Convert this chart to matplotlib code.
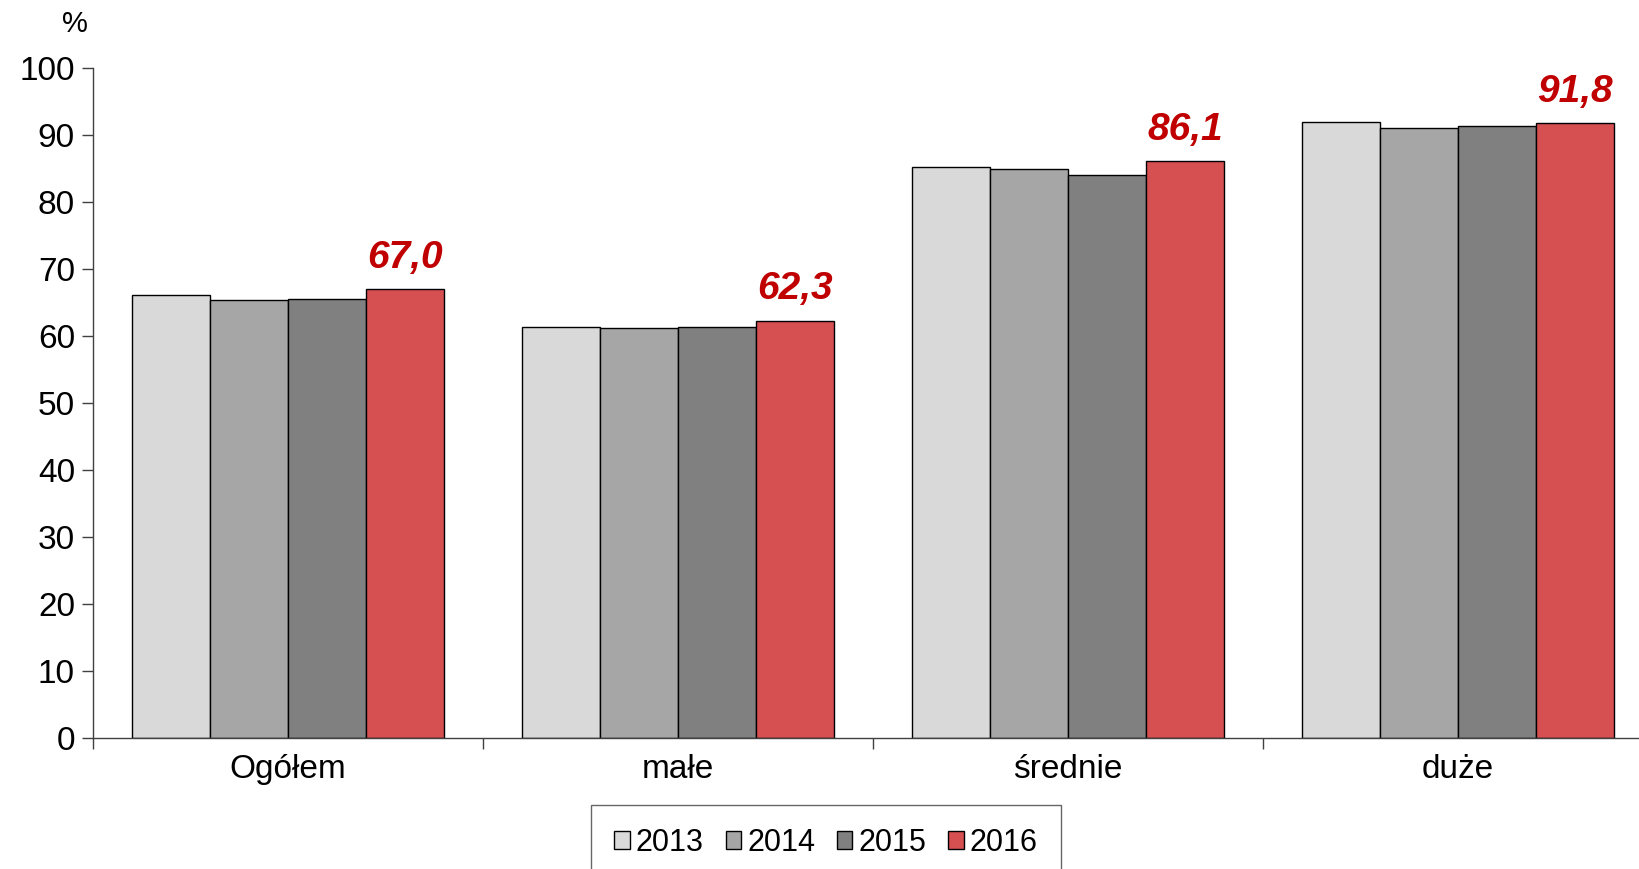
import numpy as np
import matplotlib.pyplot as plt

plt.rcParams['font.family'] = ['Liberation Sans', 'DejaVu Sans']

categories = ['Ogółem', 'małe', 'średnie', 'duże']
years = ['2013', '2014', '2015', '2016']
v2013 = [66.1, 61.4, 85.3, 92.0]
v2014 = [65.4, 61.2, 85.0, 91.0]
v2015 = [65.5, 61.4, 84.0, 91.3]
v2016 = [67.0, 62.3, 86.1, 91.8]
labels_2016 = ['67,0', '62,3', '86,1', '91,8']

colors = ['#D9D9D9', '#A6A6A6', '#808080', '#D64F51']
series = [v2013, v2014, v2015, v2016]

fig = plt.figure(figsize=(16.4, 8.69), dpi=100)
ax = fig.add_axes([93 / 1640, 0.1503, (1653 - 93) / 1640, 0.9217 - 0.1503])

x = np.arange(len(categories))
w = 0.2
for i, (vals, col, yr) in enumerate(zip(series, colors, years)):
    ax.bar(x + (i - 1.5) * w, vals, width=w, color=col, edgecolor='black',
           linewidth=1, label=yr)

for xi, v, lab in zip(x, v2016, labels_2016):
    ax.text(xi + 1.5 * w, v + 2.0, lab, ha='center', va='bottom', color='#C00000',
            fontsize=28, fontweight='bold', fontstyle='italic')

ax.set_xlim(-0.5, 3.5)
ax.set_ylim(0, 100)
ax.set_yticks(range(0, 101, 10))
ax.tick_params(axis='y', labelsize=24, length=8, width=1, color='#404040', pad=5)

ax.set_xticks(np.arange(-0.5, 3.6, 1.0))
ax.set_xticklabels([])
ax.set_xticks(x, minor=True)
ax.set_xticklabels(categories, minor=True, fontsize=24)
ax.tick_params(axis='x', which='major', length=8, width=1, color='#404040')
ax.tick_params(axis='x', which='minor', length=0, pad=11)

for s in ['top', 'right']:
    ax.spines[s].set_visible(False)
for s in ['left', 'bottom']:
    ax.spines[s].set_color('#404040')
    ax.spines[s].set_linewidth(1)

fig.text(75 / 1640, 1 - 24 / 869, '%', fontsize=21, ha='center', va='center')

leg = fig.legend(loc='upper center', bbox_to_anchor=(826 / 1640, 1 - 805 / 869),
                 ncol=4, fontsize=22, frameon=True, fancybox=False,
                 handlelength=0.5, handleheight=0.5, handletextpad=0.2,
                 columnspacing=0.72, borderpad=0.75, borderaxespad=0)
leg.get_frame().set_edgecolor('#404040')
leg.get_frame().set_linewidth(1)

fig.savefig('out.png', dpi=100)
